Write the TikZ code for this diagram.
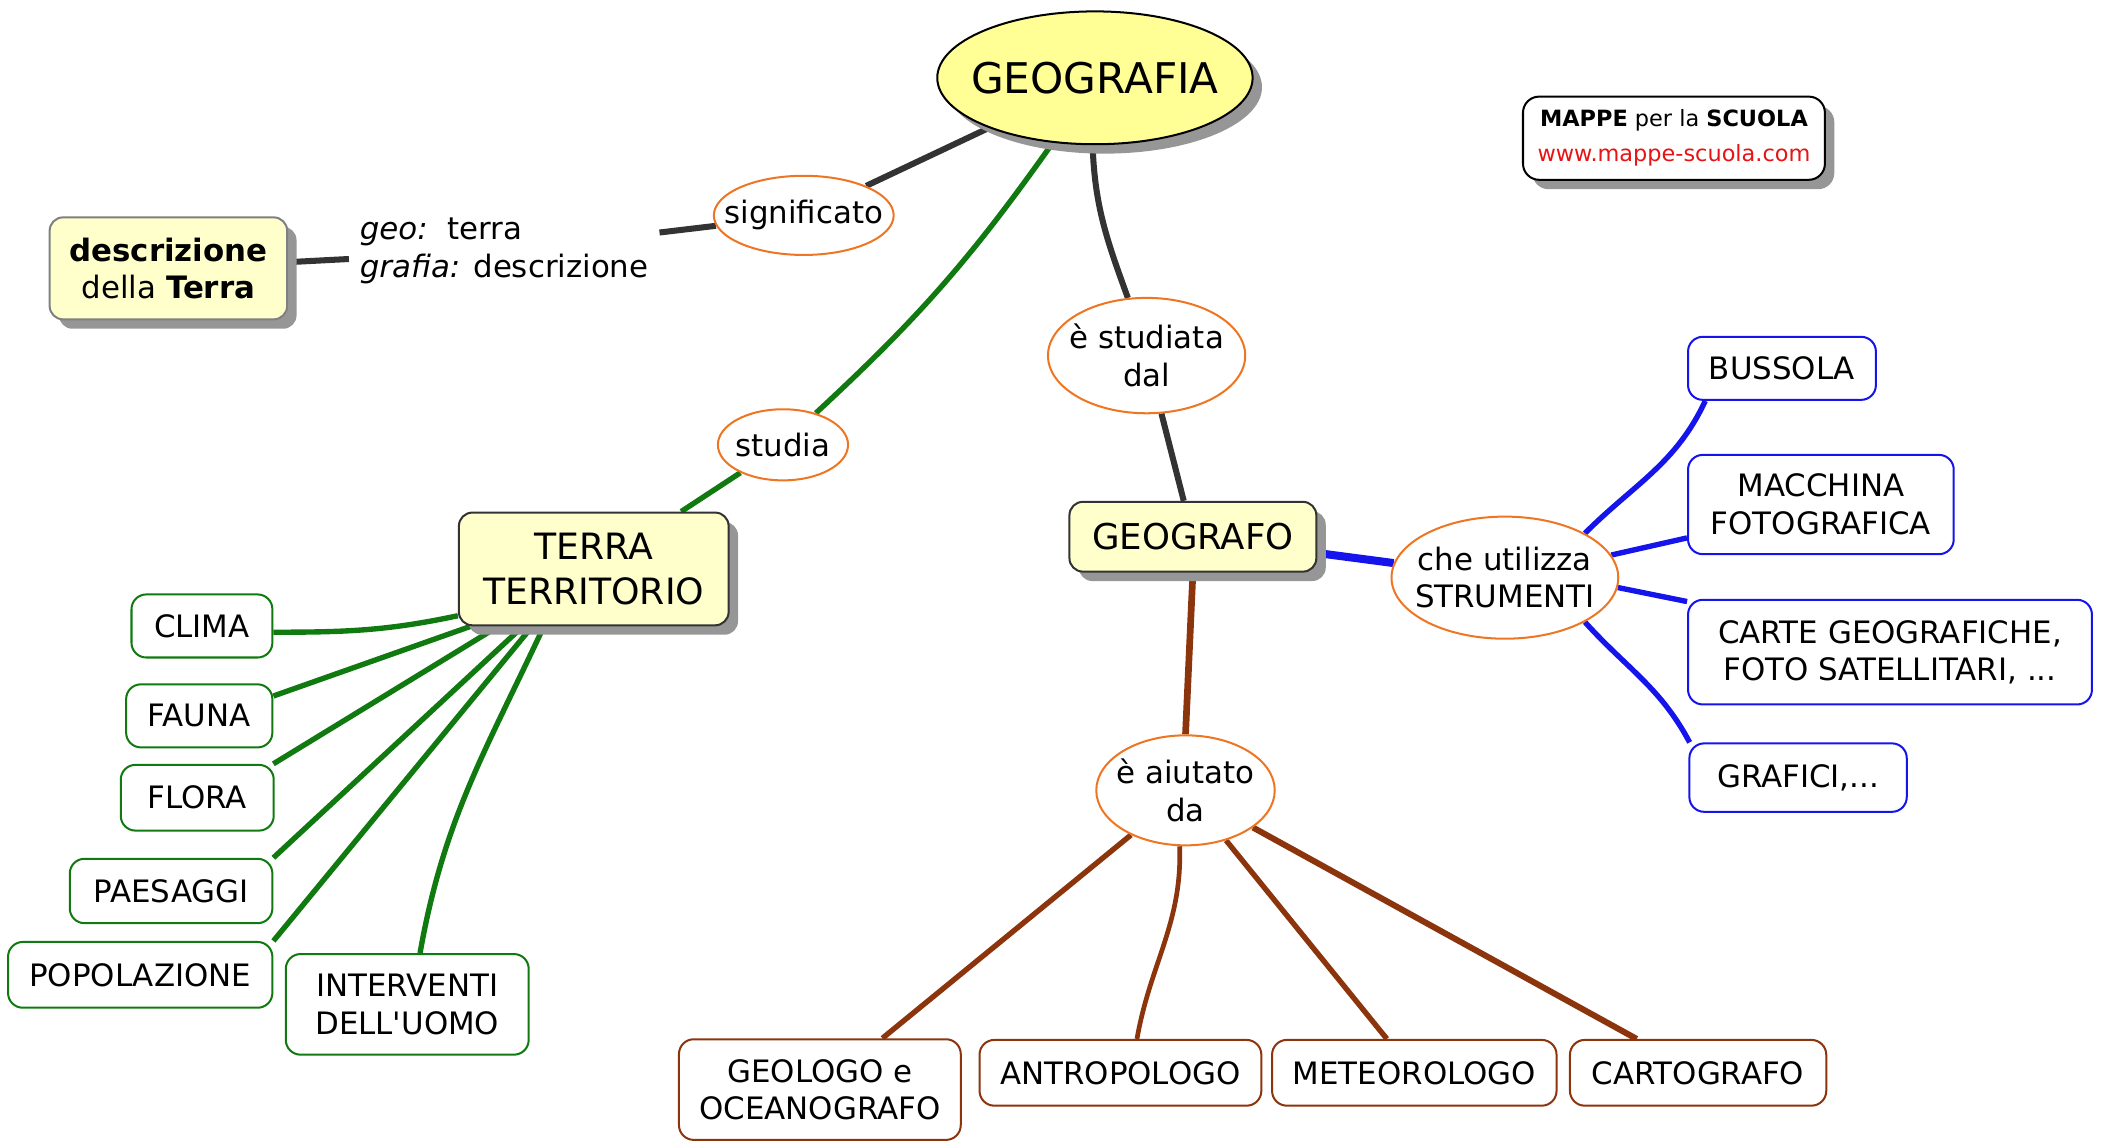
\documentclass[tikz,border=0pt]{standalone}
\usepackage{fontspec}
\setmainfont{DejaVu Sans}
\usetikzlibrary{shapes.geometric,shadows,backgrounds}

\definecolor{orng}{RGB}{238,118,34}
\definecolor{grn}{RGB}{16,122,16}
\definecolor{brn}{RGB}{140,52,12}
\definecolor{blu}{RGB}{20,20,235}
\definecolor{dark}{RGB}{51,51,51}
\definecolor{ylw}{RGB}{255,255,204}
\definecolor{ylw2}{RGB}{255,255,150}
\definecolor{shd}{RGB}{150,150,150}
\definecolor{urlred}{RGB}{230,20,20}

\begin{document}
\begin{tikzpicture}[x=1pt,y=1pt,
  txt/.style={font=\fontsize{23}{28}\selectfont, align=center, inner sep=0pt},
  shad/.style={drop shadow={shadow xshift=7pt,shadow yshift=-7pt,fill=shd,opacity=1}},
  ybox/.style={txt, rectangle, rounded corners=10pt, draw=dark, line width=1.5pt, fill=ylw, shad},
  gbox/.style={txt, rectangle, rounded corners=11pt, draw=grn, line width=1.5pt, fill=white},
  bbox/.style={txt, rectangle, rounded corners=11pt, draw=blu, line width=1.5pt, fill=white},
  rbox/.style={txt, rectangle, rounded corners=11pt, draw=brn, line width=1.5pt, fill=white},
  oval/.style={txt, ellipse, draw=orng, line width=1.5pt, fill=white, inner xsep=-80pt, inner ysep=-40pt},
  dline/.style={draw=dark, line width=4.5pt},
  gline/.style={draw=grn, line width=4pt},
  bline/.style={draw=blu, line width=4pt},
  rline/.style={draw=brn, line width=4pt},
]
\useasboundingbox (0,0) rectangle (1568,-850);

% main nodes
\node[txt, ellipse, draw=black, line width=1.5pt, fill=ylw2, shad, inner xsep=-120pt, inner ysep=-40pt,
  minimum width=235pt, minimum height=99pt, font=\fontsize{31.5}{36}\selectfont] (geografia) at (816,-58) {GEOGRAFIA};

\node[txt, rectangle, rounded corners=12pt, draw=black, line width=1.5pt, fill=white, shad,
  minimum width=225pt, minimum height=62pt, font=\fontsize{16.7}{26}\selectfont] (mappe) at (1247.5,-103)
  {\textbf{MAPPE} per la \textbf{SCUOLA}\\\textcolor{urlred}{www.mappe-scuola.com}};

\node[ybox, draw=gray, minimum width=177pt, minimum height=76pt] (descr) at (125.5,-200)
  {\textbf{descrizione}\\della \textbf{Terra}};

\node[txt, align=left, anchor=west, inner sep=8pt] (geotext) at (260,-187)
  {\textit{geo:}\ \ terra\\\textit{grafia:} descrizione};

\node[oval, minimum width=134pt, minimum height=59pt] (signif) at (599,-160.5) {significato};
\node[oval, minimum width=97pt, minimum height=53pt] (studia) at (583.5,-331.5) {studia};
\node[oval, minimum width=147pt, minimum height=86pt] (studiata) at (854.5,-265) {è studiata\\dal};
\node[oval, minimum width=169pt, minimum height=91pt] (strumenti) at (1121.5,-430.5) {che utilizza\\STRUMENTI};
\node[oval, minimum width=133pt, minimum height=82pt] (aiutato) at (883.5,-589) {è aiutato\\da};

\node[ybox, minimum width=201pt, minimum height=84pt, font=\fontsize{27}{33}\selectfont] (terra) at (442.5,-424)
  {TERRA\\TERRITORIO};
\node[ybox, minimum width=184pt, minimum height=52pt, font=\fontsize{26.5}{32}\selectfont] (geografo) at (889,-400)
  {GEOGRAFO};

% blue boxes
\node[bbox, minimum width=140pt, minimum height=47pt] (bussola) at (1328,-274.5) {BUSSOLA};
\node[bbox, minimum width=198pt, minimum height=74pt] (macchina) at (1357,-376) {MACCHINA\\FOTOGRAFICA};
\node[bbox, minimum width=301pt, minimum height=78pt] (carte) at (1408.5,-486) {CARTE GEOGRAFICHE,\\FOTO SATELLITARI, ...};
\node[bbox, minimum width=162pt, minimum height=51pt] (grafici) at (1340,-579.5) {GRAFICI,...};

% brown boxes
\node[rbox, minimum width=210pt, minimum height=75pt] (geologo) at (611,-812) {GEOLOGO e\\OCEANOGRAFO};
\node[rbox, minimum width=210pt, minimum height=49pt] (antropologo) at (835,-799.5) {ANTROPOLOGO};
\node[rbox, minimum width=212pt, minimum height=49pt] (meteorologo) at (1054,-799.5) {METEOROLOGO};
\node[rbox, minimum width=191pt, minimum height=49pt] (cartografo) at (1265.5,-799.5) {CARTOGRAFO};

% green boxes
\node[gbox, minimum width=105pt, minimum height=47pt] (clima) at (150.5,-466.5) {CLIMA};
\node[gbox, minimum width=109pt, minimum height=47pt] (fauna) at (148.5,-533.5) {FAUNA};
\node[gbox, minimum width=114pt, minimum height=49pt] (flora) at (147,-594.5) {FLORA};
\node[gbox, minimum width=151pt, minimum height=48pt] (paesaggi) at (127.5,-664) {PAESAGGI};
\node[gbox, minimum width=197pt, minimum height=49pt] (popolazione) at (104.5,-726.5) {POPOLAZIONE};
\node[gbox, minimum width=181pt, minimum height=75pt] (interventi) at (303.5,-748.5) {INTERVENTI\\DELL\textquotesingle UOMO};

\begin{scope}[on background layer]
  \draw[dline] (geografia) -- (signif);
  \draw[dline] (signif) -- (geotext);
  \draw[dline] (geotext) -- (descr);
  \draw[dline] (geografia.-92) to[out=-88,in=110] (studiata.108);
  \draw[dline] (studiata) -- (geografo);

  \draw[gline] (geografia.-123) to[bend left=6] (studia.44);
  \draw[gline] (studia) -- (terra);
  \draw[gline] (terra.-161) to[out=192,in=0] (clima.-5);
  \draw[gline] (terra.-155) -- (fauna.15);
  \draw[gline] (terra.-149) -- (flora.24);
  \draw[gline] (terra.-141) -- (paesaggi.north east);
  \draw[gline] (terra.-137) -- (popolazione.north east);
  \draw[gline] (terra.-131) to[out=-115,in=80] (interventi.76);

  \draw[bline, line width=6pt] (geografo) -- (strumenti);
  \draw[bline] (strumenti.29) to[out=45,in=-115] (bussola.-157);
  \draw[bline] (strumenti.12) -- (macchina.-166);
  \draw[bline] (strumenti.-5) -- (carte.166);
  \draw[bline] (strumenti.-29) to[out=-48,in=118] (grafici.162);

  \draw[rline, line width=5pt] (geografo.south) -- (aiutato.north);
  \draw[rline] (aiutato) -- (geologo);
  \draw[rline, line width=3.5pt] (aiutato.-96) to[out=-88,in=80] (antropologo.64);
  \draw[rline] (aiutato) -- (meteorologo);
  \draw[rline, line width=4.5pt] (aiutato) -- (cartografo);
\end{scope}
\end{tikzpicture}
\end{document}
